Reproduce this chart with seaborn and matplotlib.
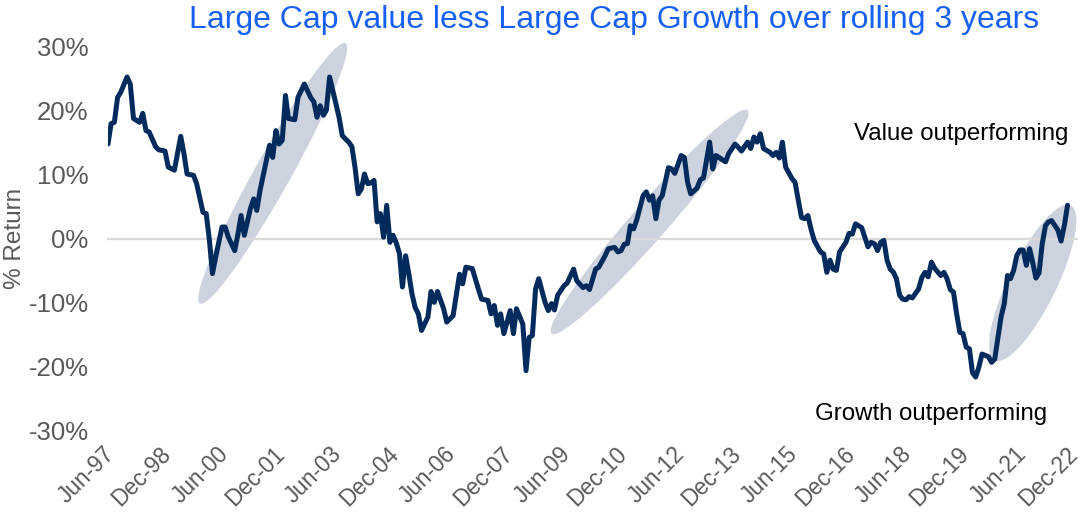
import numpy as np
import pandas as pd
import matplotlib
matplotlib.use("Agg")
import matplotlib.pyplot as plt
import matplotlib.dates as mdates
import seaborn as sns
from matplotlib.patches import Ellipse
from matplotlib.transforms import IdentityTransform, ScaledTranslation

# ---------------- data ----------------
start_month = "1997-06-01"
month_offset = [0, 1, 2, 3, 4, 6, 7, 8, 10, 11, 12, 13, 15, 16, 18, 19, 21, 23, 24, 25,
                27, 28, 30, 31, 32, 33, 34, 36, 37, 38, 40, 41, 42, 43, 45, 46, 47, 48, 50, 51,
                52, 53, 54, 55, 56, 57, 59, 60, 62, 64, 65, 66, 67, 68, 69, 70, 71, 73, 74, 76,
                77, 78, 79, 80, 81, 82, 83, 84, 85, 86, 87, 88, 89, 90, 91, 92, 93, 94, 95, 96,
                97, 98, 99, 101, 102, 103, 104, 106, 107, 109, 111, 112, 113, 115, 117, 118, 120, 121, 122, 123,
                124, 125, 127, 128, 129, 131, 132, 133, 134, 135, 136, 138, 139, 140, 141, 142, 144, 145, 147, 148,
                150, 151, 152, 154, 155, 157, 158, 160, 161, 162, 163, 164, 165, 166, 167, 169, 170, 171, 172, 173,
                174, 175, 177, 178, 179, 181, 182, 183, 184, 186, 187, 188, 189, 190, 191, 192, 193, 195, 196, 198,
                199, 200, 202, 203, 204, 205, 206, 207, 209, 210, 211, 212, 213, 214, 216, 217, 218, 219, 220, 221,
                222, 223, 225, 226, 227, 228, 229, 230, 231, 233, 234, 235, 236, 238, 239, 240, 241, 242, 243, 244,
                245, 246, 247, 248, 249, 250, 251, 252, 253, 254, 256, 257, 258, 259, 260, 261, 263, 264, 265, 266,
                267, 268, 269, 270, 271, 272, 273, 274, 275, 276, 278, 279, 280, 281, 282, 283, 284, 285, 286, 287,
                288, 289, 290, 291, 292, 293, 294, 295, 296, 297, 298, 300, 301, 302, 303]
value_pct = [14.8, 18.0, 18.2, 22.1, 22.9, 25.3, 24.2, 18.8, 18.2, 19.6, 16.9, 16.7, 14.4, 13.9, 13.7, 11.2, 10.7, 16.0, 13.3, 10.1,
             9.9, 8.6, 4.1, 3.9, -0.3, -5.5, -2.9, 1.8, 1.8, 0.2, -1.9, 0.7, 3.6, 0.5, 4.7, 6.2, 4.4, 7.5, 12.2, 14.6,
             12.7, 16.9, 14.8, 15.4, 22.4, 18.8, 18.6, 22.1, 24.2, 22.1, 21.4, 19.0, 20.8, 19.3, 20.1, 25.3, 23.2, 19.0, 16.1, 15.1,
             14.4, 11.2, 7.0, 7.8, 10.1, 8.6, 8.7, 9.1, 2.6, 3.9, 0.2, 5.2, -0.6, 0.5, -0.7, -2.4, -7.6, -2.7, -5.5, -8.7,
             -10.8, -11.8, -14.4, -12.3, -8.3, -10.0, -8.3, -11.0, -13.1, -12.1, -5.6, -7.1, -4.5, -4.7, -7.9, -9.5, -9.7, -11.8, -10.5, -13.6,
             -11.8, -14.9, -11.3, -14.9, -11.0, -13.4, -20.7, -15.5, -15.2, -7.9, -6.3, -10.0, -11.3, -10.2, -11.2, -8.9, -7.4, -7.0, -4.8, -6.6,
             -7.7, -7.4, -8.0, -4.8, -4.5, -2.7, -1.6, -1.4, -2.1, -1.9, -0.9, -0.8, 2.0, 1.5, 2.9, 6.7, 7.3, 6.0, 6.7, 3.1,
             6.0, 6.7, 11.1, 10.9, 10.2, 13.0, 12.7, 8.8, 7.0, 7.9, 9.2, 9.5, 12.2, 15.1, 10.9, 13.0, 12.7, 12.0, 13.3, 14.8,
             14.3, 13.7, 15.1, 14.1, 15.9, 15.1, 16.4, 14.1, 13.5, 13.0, 13.5, 12.6, 15.1, 11.2, 9.4, 8.8, 6.0, 3.3, 3.1, 3.6,
             1.5, -0.3, -2.1, -2.4, -5.3, -3.4, -4.8, -5.0, -2.1, -0.6, 0.8, 0.7, 2.3, 1.7, 0.2, -1.3, -0.6, -0.8, -1.9, -0.6,
             -0.3, -3.4, -4.8, -5.3, -6.3, -8.9, -9.5, -9.6, -9.1, -9.3, -7.9, -6.1, -5.3, -6.0, -3.7, -4.6, -5.8, -5.3, -6.3, -8.0,
             -8.4, -11.8, -14.7, -14.9, -17.0, -17.3, -21.0, -21.7, -20.2, -18.1, -18.5, -19.4, -18.9, -15.5, -12.3, -10.2, -5.8, -6.3, -5.0, -2.7,
             -1.8, -1.8, -4.2, -1.6, -3.7, -6.2, -5.4, -0.8, 2.0, 2.6, 2.8, 1.3, -0.4, 2.0, 5.2]

tick_labels = ["Jun-97", "Dec-98", "Jun-00", "Dec-01", "Jun-03", "Dec-04", "Jun-06", "Dec-07", "Jun-09",
               "Dec-10", "Jun-12", "Dec-13", "Jun-15", "Dec-16", "Jun-18", "Dec-19", "Jun-21", "Dec-22"]
y_ticks = [-30, -20, -10, 0, 10, 20, 30]

# highlighted regimes (ellipse tips: date, value)
hl_start_date = ["1999-11-01", "2009-02-01", "2020-10-01"]
hl_start_val = [-10.2, -14.9, -19.1]
hl_end_date = ["2003-09-01", "2014-04-01", "2022-10-01"]
hl_end_val = [30.6, 20.1, 5.2]

title = "Large Cap value less Large Cap Growth over rolling 3 years"
ylabel = "% Return"
note_top = "Value outperforming"
note_bottom = "Growth outperforming"

# ---------------- style ----------------
LINE = "#002B5C"
ELL = "#CDD3DE"
GRID = "#D9D9D9"
TXT = "#595959"
TITLE = "#1660F5"
hl_width_px = [36, 36, 48]

sns.set_theme(style="white")
plt.rcParams["font.family"] = ["Liberation Sans", "DejaVu Sans"]

dates = [pd.Timestamp(start_month) + pd.DateOffset(months=int(m)) for m in month_offset]
df = pd.DataFrame({"date": dates, "value": value_pct})
tick_dates = pd.to_datetime(tick_labels, format="%b-%y")
tick_num = mdates.date2num(tick_dates)

fig = plt.figure(figsize=(10.81, 5.15), dpi=100)
ax = fig.add_axes([108 / 1081, 85 / 515, 969 / 1081, 383 / 515])

sns.lineplot(data=df, x="date", y="value", color=LINE, linewidth=3.6, ax=ax, zorder=4)

ax.set_xlim(tick_num[0], tick_num[-1])
ax.set_ylim(-30, 30)

for s in ["left", "right", "top"]:
    ax.spines[s].set_visible(False)
ax.spines["bottom"].set_position(("data", 0))
ax.spines["bottom"].set_color(GRID)
ax.spines["bottom"].set_linewidth(1.6)
ax.spines["bottom"].set_zorder(2)
ax.set_xticks(tick_num)
ax.tick_params(axis="x", length=7, width=1.6, color=GRID, labelbottom=False, direction="out")

ax.set_yticks(y_ticks)
ax.set_yticklabels([f"{v}%" for v in y_ticks])
ax.tick_params(axis="y", length=0, labelsize=18.5, labelcolor=TXT, pad=14)
ax.set_ylabel(ylabel, fontsize=17.5, color=TXT)
ax.yaxis.set_label_coords(-0.0846, 0.5)
ax.set_xlabel("")

sec = ax.secondary_xaxis("bottom")
sec.set_xticks(tick_num)
sec.set_xticklabels(tick_labels)
sec.spines["bottom"].set_visible(False)
sec.tick_params(length=0, labelsize=16.3, labelcolor=TXT, pad=9)
labs = sec.get_xticklabels()
for i, lab in enumerate(labs):
    dx = -4 if i < len(labs) - 1 else -8
    lab.set_rotation(45)
    lab.set_ha("right")
    lab.set_rotation_mode("anchor")
    lab.set_transform(lab.get_transform() + ScaledTranslation(dx / 72, 0, fig.dpi_scale_trans))

# ellipses drawn in display space from their data tips
fig.canvas.draw()
for d0, v0, d1, v1, w in zip(hl_start_date, hl_start_val, hl_end_date, hl_end_val, hl_width_px):
    p0 = ax.transData.transform((mdates.date2num(pd.Timestamp(d0)), v0))
    p1 = ax.transData.transform((mdates.date2num(pd.Timestamp(d1)), v1))
    c = (p0 + p1) / 2
    length = np.hypot(*(p1 - p0))
    ang = np.degrees(np.arctan2(p1[1] - p0[1], p1[0] - p0[0]))
    e = Ellipse(c, length, w, angle=ang, transform=IdentityTransform(),
                facecolor=ELL, edgecolor="none", zorder=1, clip_on=False)
    ax.add_artist(e)

fig.text(614 / 1081, 1 - 20 / 515, title, ha="center", va="center", color=TITLE, fontsize=23)
fig.text(1068 / 1081, 1 - 134 / 515, note_top, ha="right", va="center", color="black", fontsize=17.3)
fig.text(1047 / 1081, 1 - 414 / 515, note_bottom, ha="right", va="center", color="black", fontsize=17.3)

fig.savefig("out.png", dpi=100)
